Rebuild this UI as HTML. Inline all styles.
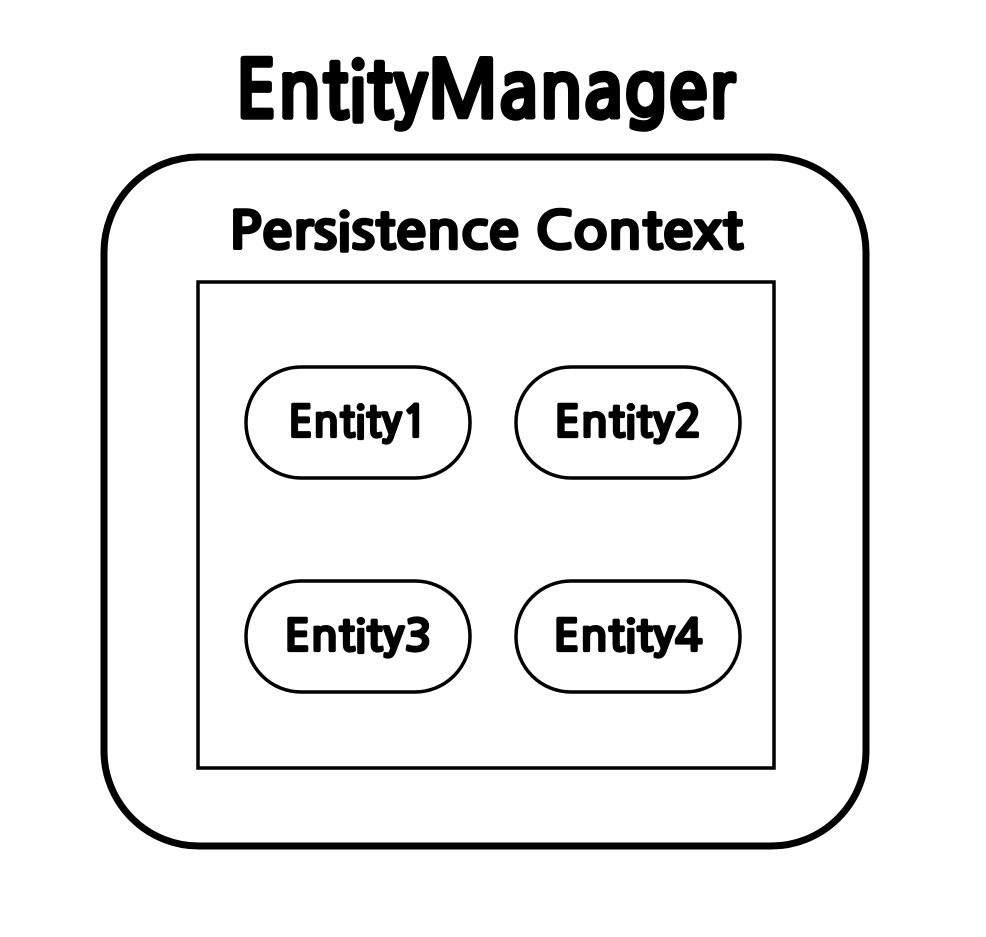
<!DOCTYPE html>
<html><head><meta charset="utf-8"><style>
html,body{margin:0;padding:0;background:#fff;}
svg text{font-family:"NanumGothic","Liberation Sans",sans-serif;font-weight:bold;fill:#000;stroke:#000;font-variant-ligatures:none;}
</style></head><body>
<svg width="986" height="932" viewBox="0 0 986 932" xmlns="http://www.w3.org/2000/svg">
<rect width="986" height="932" fill="#fff"/>
<text x="485" y="118" font-size="80" stroke-width="3.5" text-anchor="middle" textLength="500" lengthAdjust="spacingAndGlyphs">EntityManager</text>
<rect x="104" y="157" width="762" height="689" rx="95" ry="95" fill="none" stroke="#000" stroke-width="7"/>
<text x="486" y="249" font-size="52" stroke-width="2.6" text-anchor="middle" textLength="514" lengthAdjust="spacingAndGlyphs">Persistence Context</text>
<rect x="198" y="282" width="576" height="486" fill="none" stroke="#000" stroke-width="3.5"/>
<rect x="246" y="367" width="224" height="111" rx="55" fill="none" stroke="#000" stroke-width="3.5"/>
<rect x="516" y="367" width="224" height="111" rx="55" fill="none" stroke="#000" stroke-width="3.5"/>
<rect x="246" y="581" width="224" height="111" rx="55" fill="none" stroke="#000" stroke-width="3.5"/>
<rect x="516" y="581" width="224" height="111" rx="55" fill="none" stroke="#000" stroke-width="3.5"/>
<text x="358" y="437" font-size="44" stroke-width="2.2" text-anchor="middle" textLength="140" lengthAdjust="spacingAndGlyphs">Entity1</text>
<text x="628" y="437" font-size="44" stroke-width="2.2" text-anchor="middle" textLength="148" lengthAdjust="spacingAndGlyphs">Entity2</text>
<text x="358" y="651" font-size="44" stroke-width="2.2" text-anchor="middle" textLength="148" lengthAdjust="spacingAndGlyphs">Entity3</text>
<text x="628" y="651" font-size="44" stroke-width="2.2" text-anchor="middle" textLength="150" lengthAdjust="spacingAndGlyphs">Entity4</text>
</svg>
</body></html>
